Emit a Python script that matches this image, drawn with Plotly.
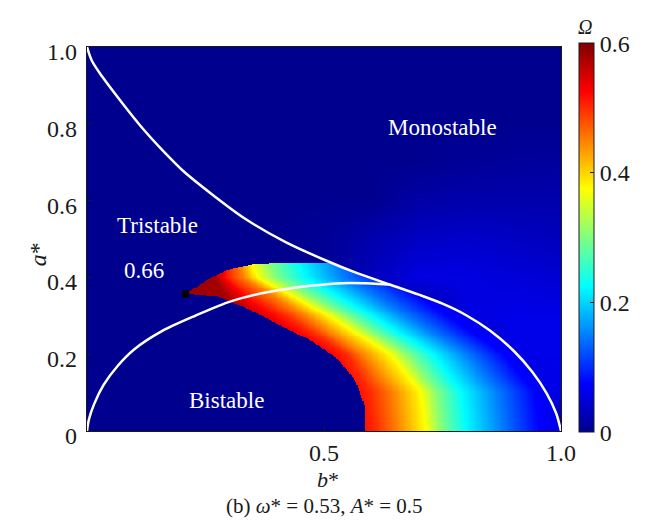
import numpy as np
import plotly.graph_objects as go

# ---- stability boundaries in the (b*, a*) plane ----
upper_b = [0.0, 0.01, 0.032, 0.075, 0.118, 0.16, 0.203, 0.264, 0.332, 0.418, 0.504, 0.57, 0.64,
           0.70, 0.75, 0.80, 0.85, 0.90, 0.94, 0.97, 0.99, 1.0]
upper_a = [1.0, 0.965, 0.923, 0.853, 0.787, 0.73, 0.677, 0.616, 0.554, 0.4925, 0.444, 0.411, 0.381,
           0.355, 0.3315, 0.3015, 0.2615, 0.209, 0.153, 0.0975, 0.0455, 0.0]
lower_b = [0.0, 0.004, 0.015, 0.035, 0.065, 0.10, 0.158, 0.228, 0.297, 0.366, 0.42, 0.47, 0.54, 0.60, 0.64]
lower_a = [0.0, 0.03, 0.07, 0.12, 0.17, 0.213, 0.26, 0.30, 0.335, 0.358, 0.37, 0.378, 0.385, 0.384, 0.381]

# ---- edges of the region with non-zero Omega ----
tip_b, tip_a = 0.208, 0.357
edge_low_b = [0.587, 0.587, 0.566, 0.525, 0.47, 0.40, 0.331, 0.31, 0.276, 0.208]
edge_low_a = [0.0, 0.063, 0.133, 0.193, 0.237, 0.28, 0.324, 0.333, 0.35, 0.357]
edge_top_b = [0.208, 0.22, 0.262, 0.297, 0.345, 0.387, 0.45, 0.50]
edge_top_a = [0.357, 0.367, 0.40, 0.419, 0.432, 0.438, 0.438, 0.438]

# ---- Omega bands: b* position of each level along rows of a* ----
band_rows_a = [0.00, 0.10, 0.20, 0.30, 0.35, 0.40, 0.44]
band_levels = [0.58, 0.50, 0.45, 0.375, 0.30, 0.225, 0.15, 0.075]
band_pos = [
    [0.50, 0.610, 0.655, 0.715, 0.750, 0.800, 0.875, 0.955],
    [0.49, 0.598, 0.645, 0.705, 0.740, 0.790, 0.865, 0.945],
    [0.45, 0.550, 0.580, 0.640, 0.680, 0.730, 0.800, 0.880],
    [0.33, 0.420, 0.460, 0.510, 0.550, 0.600, 0.670, 0.760],
    [0.29, 0.350, 0.395, 0.435, 0.475, 0.530, 0.605, 0.700],
    [0.27, 0.300, 0.330, 0.360, 0.400, 0.460, 0.540, 0.640],
    [0.26, 0.300, 0.320, 0.345, 0.385, 0.445, 0.525, 0.625],
]
band_tail = [0.06, 0.06, 0.055, 0.05, 0.045, 0.04, 0.04]   # Omega at b* = 1

# ---- faint Omega outside the band region (coarse grid) ----
halo_b = [0.0, 0.1, 0.2, 0.3, 0.4, 0.5, 0.6, 0.7, 0.8, 0.9, 1.0]
halo_a = [0.0, 0.1, 0.2, 0.3, 0.4, 0.5, 0.6, 0.7, 0.8, 0.9, 1.0]
halo_omega = [
    [0, 0, 0, 0, 0, 0, 0, 0, 0, 0, 0],
    [0, 0, 0, 0, 0, 0, 0, 0, 0, 0.05, 0.06],
    [0, 0, 0, 0, 0, 0, 0, 0, 0, 0.06, 0.06],
    [0, 0, 0, 0, 0, 0, 0, 0, 0.055, 0.06, 0.06],
    [0, 0, 0, 0, 0, 0, 0.03, 0.055, 0.055, 0.05, 0.045],
    [0, 0, 0, 0, 0, 0.005, 0.02, 0.035, 0.04, 0.035, 0.03],
    [0, 0, 0, 0, 0, 0, 0, 0.015, 0.02, 0.02, 0.02],
    [0, 0, 0, 0, 0, 0, 0, 0, 0.005, 0.008, 0.01],
    [0, 0, 0, 0, 0, 0, 0, 0, 0, 0, 0],
    [0, 0, 0, 0, 0, 0, 0, 0, 0, 0, 0],
    [0, 0, 0, 0, 0, 0, 0, 0, 0, 0, 0],
]

# ---- build the Omega map on a fine grid ----
gb = np.linspace(0, 1, 401)
ga = np.linspace(0, 1, 401)
pos = np.array(band_pos)

# halo: interpolate along b on each coarse row, then along a
halo_rows = np.array([np.interp(gb, halo_b, r) for r in halo_omega])
H = np.array([[np.interp(a, halo_a, halo_rows[:, j]) for j in range(gb.size)] for a in ga])

top_of_b = np.minimum(np.interp(gb, edge_top_b, edge_top_a, left=-1.0, right=0.438),
                      np.interp(gb, upper_b, upper_a))
low_sorted = np.argsort(edge_low_a)
low_a_s = np.array(edge_low_a)[low_sorted]
low_b_s = np.array(edge_low_b)[low_sorted]

Z = H.copy()
for i, a in enumerate(ga):
    if a > band_rows_a[-1]:
        continue
    p = [np.interp(a, band_rows_a, pos[:, k]) for k in range(len(band_levels))]
    tail = np.interp(a, band_rows_a, band_tail)
    om = np.interp(gb, p + [1.0], band_levels + [tail])
    left = np.interp(a, low_a_s, low_b_s) if a <= tip_a else tip_b
    inside = (gb >= left) & (a <= top_of_b)
    Z[i] = np.where(inside, np.maximum(om, H[i]), H[i])

# MATLAB-style jet
jet = [[0.0, "#00008F"], [0.125, "#0000FF"], [0.375, "#00FFFF"],
       [0.625, "#FFFF00"], [0.875, "#FF0000"], [1.0, "#800000"]]

serif = "Liberation Serif, Times New Roman, serif"
ink = "#1a1a1a"

fig = go.Figure()
fig.add_trace(go.Heatmap(
    x=gb, y=ga, z=Z, zmin=0, zmax=0.6, colorscale=jet,
    colorbar=dict(
        thickness=15, len=416, lenmode="pixels", x=1.037, xanchor="left", xpad=0,
        y=-0.003, yanchor="bottom", ypad=0, outlinewidth=1, outlinecolor=ink,
        tickvals=[0, 0.2, 0.4, 0.6], ticktext=["0", "0.2", "0.4", "0.6"],
        ticks="inside", ticklen=4, tickcolor=ink,
        tickfont=dict(family=serif, size=24, color=ink),
        title=dict(text="<i>Ω</i>", side="top", font=dict(family=serif, size=20, color=ink)),
    ),
    hoverinfo="skip",
))
for xs, ys in [(upper_b, upper_a), (lower_b, lower_a)]:
    fig.add_trace(go.Scatter(x=xs, y=ys, mode="lines",
                             line=dict(color="white", width=2.5, shape="spline", smoothing=0.8),
                             hoverinfo="skip", showlegend=False))
fig.add_trace(go.Scatter(x=[tip_b], y=[tip_a], mode="markers", marker=dict(color="black", size=8),
                         hoverinfo="skip", showlegend=False))

labels = [("Monostable", 0.75, 0.79), ("Tristable", 0.148, 0.536), ("0.66", 0.12, 0.418), ("Bistable", 0.294, 0.079)]
for txt, bx, ay in labels:
    fig.add_annotation(x=bx, y=ay, text=txt, showarrow=False, font=dict(family=serif, size=23, color="white"))

# y tick labels
y_ticks = [0, 0.2, 0.4, 0.6, 0.8, 1.0]
y_text = ["0", "0.2", "0.4", "0.6", "0.8", "1.0"]
for v, t in zip(y_ticks, y_text):
    fig.add_annotation(x=0, xref="paper", y=v, yref="y", text=t, showarrow=False, xanchor="right",
                       xshift=-8, yshift=-5, font=dict(family=serif, size=24, color=ink))

fig.add_annotation(x=-0.135, xref="paper", y=0.46, yref="paper", text="<i>a</i>*", textangle=-90, showarrow=False,
                   font=dict(family=serif, size=24, color=ink))
fig.add_annotation(x=0.508, xref="paper", y=-0.125, yref="paper", text="<i>b</i>*", showarrow=False,
                   yanchor="middle", font=dict(family=serif, size=22, color=ink))
fig.add_annotation(x=0.5, xref="paper", y=-0.196, yref="paper", text="(b) <i>ω</i>* = 0.53, <i>A</i>* = 0.5",
                   showarrow=False, font=dict(family=serif, size=21, color=ink), yanchor="middle")

fig.update_xaxes(range=[0, 1], tickvals=[0.5, 1.0], ticktext=["0.5", "1.0"], ticks="inside", ticklen=4,
                 tickcolor=ink, showline=True, linecolor=ink, mirror=True, showgrid=False, zeroline=False,
                 tickfont=dict(family=serif, size=24, color=ink))
fig.update_yaxes(range=[0, 1], tickvals=y_ticks, showticklabels=False,
                 ticks="inside", ticklen=4, tickcolor=ink, showline=True, linecolor=ink, mirror=True,
                 showgrid=False, zeroline=False)

fig.update_layout(width=646, height=527, margin=dict(l=87, r=77, t=47, b=96),
                  paper_bgcolor="white", plot_bgcolor="white", showlegend=False)
fig.write_html("out.html")
